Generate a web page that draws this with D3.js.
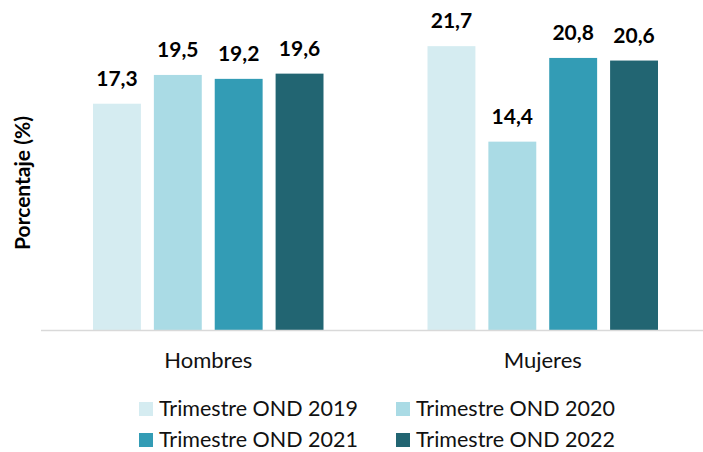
<!DOCTYPE html>
<html>
<head>
<meta charset="utf-8">
<script src="https://cdn.jsdelivr.net/npm/d3@7"></script>
<style>
  body { margin: 0; background: #fff; }
  text { font-family: Lato, "Open Sans", sans-serif; }
</style>
</head>
<body>
<svg id="chart" width="703" height="452"></svg>
<script>
const categories = ["Hombres", "Mujeres"];
const series = ["Trimestre OND 2019", "Trimestre OND 2020", "Trimestre OND 2021", "Trimestre OND 2022"];
const values2019 = [17.3, 21.7];
const values2020 = [19.5, 14.4];
const values2021 = [19.2, 20.8];
const values2022 = [19.6, 20.6];
const colors = ["#D5ECF1", "#AADBE5", "#339CB5", "#226572"];

const allValues = [values2019, values2020, values2021, values2022];

const svg = d3.select("#chart");
const baseY = 330;

const x0 = d3.scaleBand().domain(categories).range([41, 710]).paddingInner(0).paddingOuter(0);
const x1 = d3.scaleBand().domain(series).range([52, x0.bandwidth() - 52]).paddingInner(0.213).paddingOuter(0);
const y = d3.scaleLinear().domain([0, 25]).range([baseY, 3]);

// bars
series.forEach(function (s, i) {
    const g = svg.append("g");
    categories.forEach(function (c, k) {
        const v = allValues[i][k];
        g.append("rect")
            .attr("x", x0(c) + x1(s))
            .attr("y", y(v))
            .attr("width", x1.bandwidth())
            .attr("height", baseY - y(v))
            .attr("fill", colors[i]);
        g.append("text")
            .attr("x", x0(c) + x1(s) + x1.bandwidth() / 2)
            .attr("y", y(v) - 18)
            .attr("text-anchor", "middle")
            .style("font-weight", "bold")
            .style("font-size", "21px")
            .style("fill", "#000")
            .text(d3.format(".1f")(v).replace(".", ","));
    });
});

// axis line
svg.append("line")
    .attr("x1", 41).attr("x2", 703)
    .attr("y1", baseY + 0.5).attr("y2", baseY + 0.5)
    .style("stroke", "#D9D9D9")
    .style("stroke-width", 1.5);

// category labels
const xAxis = d3.axisBottom(x0).tickSize(0).tickPadding(0);
const ax = svg.append("g").attr("transform", "translate(0," + baseY + ")").call(xAxis);
ax.select(".domain").remove();
ax.selectAll("text")
    .attr("dy", 0)
    .attr("y", 38)
    .style("font-size", "22px")
    .style("font-family", "Lato, 'Open Sans', sans-serif")
    .style("fill", "#111");

// y title
svg.append("text")
    .attr("transform", "translate(30,183) rotate(-90)")
    .attr("text-anchor", "middle")
    .style("font-weight", "bold")
    .style("font-size", "21px")
    .style("fill", "#000")
    .text("Porcentaje (%)");

// legend
const legendX = [139, 396];
const legendY = [402, 433];
series.forEach(function (s, i) {
    const lx = legendX[i % 2];
    const ly = legendY[Math.floor(i / 2)];
    svg.append("rect")
        .attr("x", lx).attr("y", ly)
        .attr("width", 14).attr("height", 14)
        .attr("fill", colors[i]);
    svg.append("text")
        .attr("x", lx + 20)
        .attr("y", ly + 14)
        .style("font-size", "21.5px")
        .style("fill", "#111")
        .text(s);
});
</script>
</body>
</html>
